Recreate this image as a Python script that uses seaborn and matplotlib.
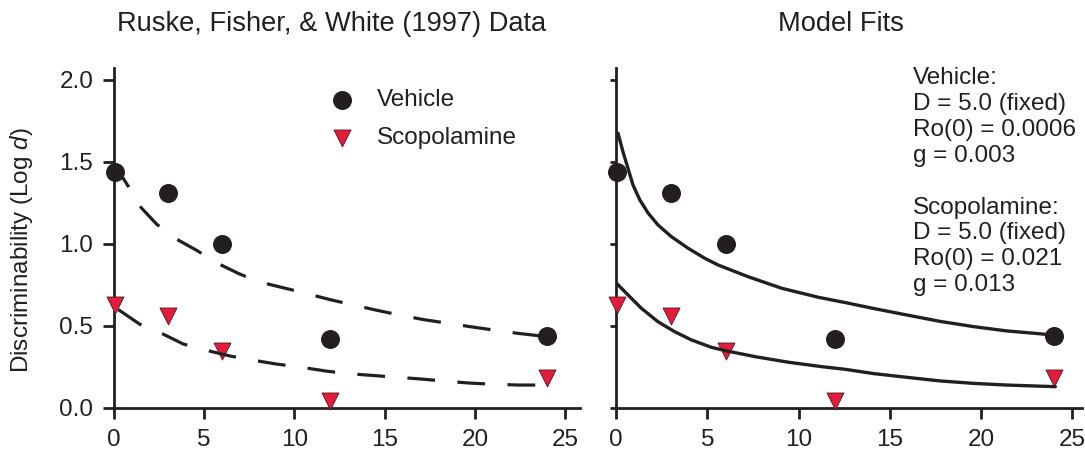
import matplotlib
matplotlib.use("Agg")
import matplotlib.pyplot as plt
import seaborn as sns
import numpy as np
import pandas as pd

# ---------------- data ----------------
delay_h = [0.05, 3, 6, 12, 24]
vehicle_logd = [1.44, 1.31, 1.00, 0.42, 0.44]
scop_logd = [0.63, 0.56, 0.35, 0.045, 0.185]

# left panel: dashed curves
veh_dash_t = [0.0, 0.8, 1.35, 2.37, 3.3, 4.6, 5.6, 6.9, 8.0, 9.5, 10.6, 12.0,
              13.2, 14.6, 15.7, 17.1, 18.3, 19.8, 21.0, 22.4, 24.0]
veh_dash_v = [1.49, 1.35, 1.24, 1.12, 1.04, 0.96, 0.89, 0.82, 0.77, 0.73, 0.70, 0.66,
              0.63, 0.595, 0.57, 0.54, 0.52, 0.495, 0.476, 0.455, 0.435]
scop_dash_t = [0.24, 1.44, 2.55, 3.84, 5.04, 6.43, 7.63, 9.0, 10.3, 11.7, 12.9,
               14.4, 15.6, 17.0, 18.2, 19.7, 20.8, 22.4, 24.2]
scop_dash_v = [0.60, 0.51, 0.46, 0.39, 0.354, 0.317, 0.293, 0.268, 0.25, 0.226, 0.21,
               0.198, 0.188, 0.177, 0.165, 0.152, 0.146, 0.14, 0.14]

# right panel: model fits
veh_fit_t = [0.11, 0.38, 0.66, 0.93, 1.3, 1.75, 2.3, 3.03, 3.95, 4.86, 5.59, 7.25,
             9.08, 11.09, 12.55, 14.1, 15.94, 17.76, 19.6, 21.4, 24.0]
veh_fit_v = [1.675, 1.563, 1.46, 1.36, 1.27, 1.19, 1.116, 1.045, 0.974, 0.913, 0.872,
             0.80, 0.73, 0.675, 0.643, 0.607, 0.567, 0.528, 0.496, 0.47, 0.445]
scop_fit_t = [0.07, 0.66, 1.39, 2.3, 3.22, 4.13, 5.23, 5.98, 7.62, 9.45, 11.28,
              12.55, 14.1, 15.94, 17.76, 19.6, 21.4, 24.07]
scop_fit_v = [0.756, 0.689, 0.608, 0.526, 0.465, 0.415, 0.37, 0.35, 0.313, 0.279,
              0.252, 0.236, 0.21, 0.187, 0.165, 0.15, 0.14, 0.13]

x_ticks = [0, 5, 10, 15, 20, 25]
x_tick_labels = ["0", "5", "10", "15", "20", "25"]
y_ticks = [0.0, 0.5, 1.0, 1.5, 2.0]
y_tick_labels = ["0.0", "0.5", "1.0", "1.5", "2.0"]

title_left = "Ruske, Fisher, & White (1997) Data"
title_right = "Model Fits"
y_label = "Discriminability (Log $d$)"
legend_labels = ["Vehicle", "Scopolamine"]
fit_text = ("Vehicle:\nD = 5.0 (fixed)\nRo(0) = 0.0006\ng = 0.003\n\n"
            "Scopolamine:\nD = 5.0 (fixed)\nRo(0) = 0.021\ng = 0.013")

# ---------------- style ----------------
sns.set_theme(style="ticks")
plt.rcParams["font.family"] = ["Liberation Sans", "DejaVu Sans"]
plt.rcParams["mathtext.fontset"] = "custom"
plt.rcParams["mathtext.rm"] = "Liberation Sans"
plt.rcParams["mathtext.it"] = "Liberation Sans:italic"

INK = "#231F20"
RED = "#E31B3C"
FS = 17.5

W, H = 1085, 457
fig = plt.figure(figsize=(W / 100, H / 100), dpi=100)
fig.patch.set_facecolor("white")

ax1 = fig.add_axes([114 / W, 1 - 408 / H, 466 / W, 340 / H])
ax2 = fig.add_axes([616 / W, 1 - 408 / H, 466 / W, 340 / H])

dash_style = (0, (8.7, 7.0))

for ax in (ax1, ax2):
    sns.scatterplot(x=delay_h, y=vehicle_logd, ax=ax, marker="o", s=187,
                    color=INK, edgecolor=INK, linewidth=0,
                    clip_on=False, zorder=3, legend=False)
    sns.scatterplot(x=delay_h, y=scop_logd, ax=ax, marker="v", s=150,
                    color=RED, edgecolor="#4a1a1e", linewidth=0.6,
                    clip_on=False, zorder=3, legend=False)

sns.lineplot(x=veh_dash_t, y=veh_dash_v, ax=ax1, sort=False, estimator=None,
             color=INK, lw=2.3, linestyle=dash_style, zorder=4)
sns.lineplot(x=scop_dash_t, y=scop_dash_v, ax=ax1, sort=False, estimator=None,
             color=INK, lw=2.3, linestyle=dash_style, zorder=4)
sns.lineplot(x=veh_fit_t, y=veh_fit_v, ax=ax2, sort=False, estimator=None,
             color=INK, lw=2.4, zorder=4, solid_joinstyle="round")
sns.lineplot(x=scop_fit_t, y=scop_fit_v, ax=ax2, sort=False, estimator=None,
             color=INK, lw=2.4, zorder=4, solid_joinstyle="round")

for ax, xr in ((ax1, 25.83), (ax2, 25.53)):
    ax.set_xlim(0, xr)
    ax.set_ylim(0, 2.073)
    ax.set_xticks(x_ticks)
    ax.set_xticklabels(x_tick_labels)
    ax.set_yticks(y_ticks)
    for s in ("top", "right"):
        ax.spines[s].set_visible(False)
    for s in ("left", "bottom"):
        ax.spines[s].set_linewidth(2.0)
        ax.spines[s].set_color(INK)
    ax.tick_params(axis="both", direction="out", length=8, width=2.0, pad=7,
                   labelsize=FS, colors=INK, labelcolor=INK)
    ax.set_xlabel("")
    ax.set_ylabel("")
    ax.set_facecolor("white")
    if ax.get_legend() is not None:
        ax.get_legend().remove()

ax1.set_yticklabels(y_tick_labels)
ax2.tick_params(axis="y", length=4.5, labelleft=False)

# legend (left panel)
handles = ax1.collections[:2]
ax1.legend(handles, legend_labels, loc="upper left", bbox_to_anchor=(0.464, 0.938),
           frameon=False, borderaxespad=0, borderpad=0, handlelength=1.0,
           handletextpad=0.91, labelspacing=0.66, fontsize=FS, labelcolor=INK)

# parameter text (right panel)
fig.text(913 / W, 1 - 67.5 / H, fit_text, ha="left", va="top", fontsize=FS,
         color=INK, linespacing=1.225)

# titles and y label
fig.text(332 / W, 1 - 30.7 / H, title_left, ha="center", va="baseline",
         fontsize=19.6, color=INK)
fig.text(841 / W, 1 - 30.7 / H, title_right, ha="center", va="baseline",
         fontsize=19.6, color=INK)
fig.text(21.5 / W, 1 - 250 / H, y_label, rotation=90, ha="center", va="center",
         fontsize=FS, color=INK)

fig.savefig("out.png", dpi=100, facecolor="white")
